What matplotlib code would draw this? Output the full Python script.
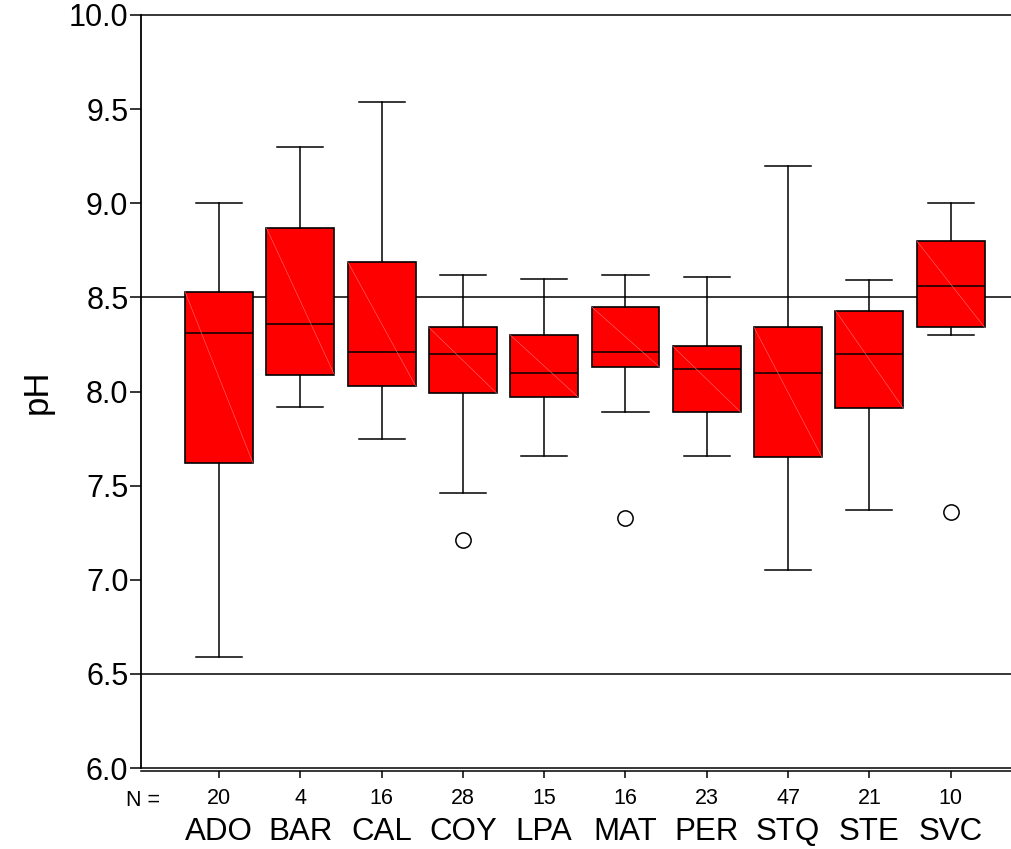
import matplotlib
matplotlib.use("Agg")
import matplotlib.pyplot as plt
import matplotlib.transforms as mtransforms

plt.rcParams['font.family'] = ['Liberation Sans', 'DejaVu Sans']

categories = ["ADO", "BAR", "CAL", "COY", "LPA", "MAT", "PER", "STQ", "STE", "SVC"]
n_counts = [20, 4, 16, 28, 15, 16, 23, 47, 21, 10]
whisker_low = [6.59, 7.92, 7.75, 7.46, 7.66, 7.89, 7.66, 7.05, 7.37, 8.30]
q1 = [7.62, 8.09, 8.03, 7.99, 7.97, 8.13, 7.89, 7.65, 7.91, 8.34]
median = [8.31, 8.36, 8.21, 8.20, 8.10, 8.21, 8.12, 8.10, 8.20, 8.56]
q3 = [8.53, 8.87, 8.69, 8.34, 8.30, 8.45, 8.24, 8.34, 8.43, 8.80]
whisker_high = [9.00, 9.30, 9.54, 8.62, 8.60, 8.62, 8.61, 9.20, 8.59, 9.00]
outliers = [[], [], [], [7.21], [], [7.33], [], [], [], [7.36]]
ref_lines = [8.5, 6.5]

W, H = 1012, 849
fig = plt.figure(figsize=(W / 100, H / 100), dpi=100)
ax = fig.add_axes([141 / W, (H - 768) / H, (W - 141) / W, (768 - 15) / H])

positions = list(range(1, len(categories) + 1))
stats = []
for i in range(len(categories)):
    stats.append(dict(med=median[i], q1=q1[i], q3=q3[i],
                      whislo=whisker_low[i], whishi=whisker_high[i],
                      fliers=outliers[i], label=categories[i]))

box_w = 0.836
ax.bxp(stats, positions=positions, widths=box_w, capwidths=0.566,
       patch_artist=True, showfliers=True,
       boxprops=dict(facecolor='#ff0000', edgecolor='black', linewidth=1.2),
       medianprops=dict(color='black', linewidth=1.1),
       whiskerprops=dict(color='black', linewidth=1.1),
       capprops=dict(color='black', linewidth=1.1),
       flierprops=dict(marker='o', markersize=11, markerfacecolor='white',
                       markeredgecolor='black', markeredgewidth=1.1),
       zorder=3)

# faint diagonal artifact inside boxes
for p, lo, hi in zip(positions, q1, q3):
    ax.plot([p - box_w / 2, p + box_w / 2], [hi, lo], color='#ff7070',
            linewidth=0.4, zorder=4)

for v in ref_lines:
    ax.axhline(v, color='black', linewidth=1.1, zorder=2)

ax.set_ylim(6.0, 10.0)
ax.set_xlim(1 - 78 / 81.3, 1 + (W - 219) / 81.3)
ax.set_yticks([6.0, 6.5, 7.0, 7.5, 8.0, 8.5, 9.0, 9.5, 10.0])
ax.set_yticklabels(["6.0", "6.5", "7.0", "7.5", "8.0", "8.5", "9.0", "9.5", "10.0"])
ax.tick_params(axis='y', direction='out', length=8, width=1.1, labelsize=22, pad=1)

ax.set_xticks(positions)
ax.set_xticklabels([str(n) for n in n_counts])
ax.tick_params(axis='x', direction='out', length=5, width=1.1, labelsize=15.5, pad=7)

ax.spines['right'].set_visible(False)
ax.spines['top'].set_linewidth(1.1)
ax.spines['left'].set_linewidth(1.3)
ax.spines['bottom'].set_linewidth(1.1)
ax.spines['bottom'].set_position(('outward', 2.5))
ax.axhline(6.0, color='black', linewidth=1.1, zorder=2, clip_on=False)

ax.text(0.002, -0.043, "N =", transform=ax.transAxes, ha='center', va='center', fontsize=15.5)
trans = mtransforms.blended_transform_factory(ax.transData, ax.transAxes)
for p, c in zip(positions, categories):
    ax.text(p, -0.085, c, transform=trans, ha='center', va='center', fontsize=22.5)

ax.set_ylabel("pH", fontsize=25, labelpad=11)

fig.savefig("out.png", dpi=100)
